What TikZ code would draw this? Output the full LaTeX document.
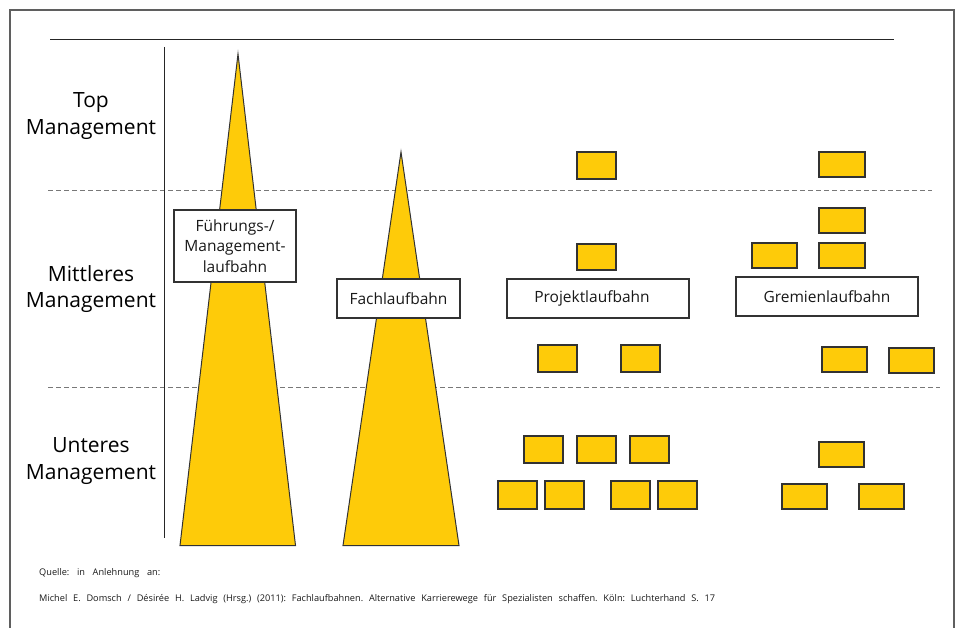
\documentclass[tikz,border=0pt]{standalone}
\usepackage{fontspec}
\setmainfont{Open Sans}
\frenchspacing
\definecolor{ygold}{RGB}{254,203,9}
\definecolor{bord}{RGB}{50,50,50}
\definecolor{framec}{RGB}{95,95,95}
\definecolor{dashc}{RGB}{120,120,120}
\begin{document}
\begin{tikzpicture}[x=1pt,y=-1pt,
  ybox/.style={draw=bord,fill=ygold,line width=1.1pt,inner sep=0pt,outer sep=0pt,rectangle},
  lbox/.style={draw=bord,fill=white,line width=1.1pt,inner sep=0pt,outer sep=0pt,rectangle,align=center,
     font=\fontsize{15.5}{20.5}\selectfont,text=black!90},
  level/.style={align=center,font=\fontsize{21}{26.5}\selectfont,text=black,inner sep=0pt},
  tri/.style={fill=ygold,draw=bord,line width=1pt,line join=miter},
  dline/.style={draw=dashc,line width=0.8pt,dash pattern=on 5pt off 3pt},
  foot/.style={font=\fontsize{9.2}{11}\selectfont\frenchspacing,text=black!90,inner sep=0pt,anchor=base west}]
\useasboundingbox (0,0) rectangle (962,628);
% frame
\coordinate (fbl) at (10,628);
\coordinate (ftl) at (10,10);
\coordinate (ftr) at (954,10);
\coordinate (fbr) at (954,628);
\draw[framec,line width=1.6pt] (fbl) -- (ftl) -- (ftr) -- (fbr);
% top line
\coordinate (tl1) at (50,40);
\coordinate (tl2) at (894,40);
\draw[black!85,line width=1pt] (tl1) -- (tl2);
% dashed lines
\coordinate (d1a) at (48,190);
\coordinate (d1b) at (932,190);
\coordinate (d2a) at (48,387);
\coordinate (d2b) at (940,387);
\draw[dline] (d1a) -- (d1b);
\draw[dline] (d2a) -- (d2b);
% vertical line
\coordinate (v1) at (164,47);
\coordinate (v2) at (164,538);
\draw[black!85,line width=1pt] (v1) -- (v2);
% level labels
\node[level] (top) at (91,116) {Top\\Management};
\node[level] (mid) at (91,289) {Mittleres\\Management};
\node[level] (low) at (91,461) {Unteres\\Management};
% triangles
\filldraw[tri] (238,54) -- (295.5,545.5) -- (180,545.5) -- cycle;
\filldraw[tri] (401,152) -- (459,545.5) -- (343,545.5) -- cycle;
% label boxes
\node[lbox,minimum width=122pt,minimum height=72pt] (fm) at (235,246) {Führungs-/\\Management-\\laufbahn};
\node[lbox,minimum width=123pt,minimum height=39pt] (fl) at (398.5,298.5) {Fachlaufbahn};
\node[lbox,minimum width=182pt,minimum height=39pt] (pl) at (598,298.5) {Projektlaufbahn\hspace*{12pt}};
\node[lbox,minimum width=182pt,minimum height=39pt] (gl) at (827,296.5) {Gremienlaufbahn};
% Projekt boxes
\node[ybox,minimum width=39pt,minimum height=27pt] (p1) at (596.5,165.5) {};
\node[ybox,minimum width=39pt,minimum height=26pt] (p2) at (596.5,257) {};
\node[ybox,minimum width=39pt,minimum height=27pt] (p3) at (557.5,358.5) {};
\node[ybox,minimum width=39pt,minimum height=27pt] (p4) at (640.5,358.5) {};
\node[ybox,minimum width=39pt,minimum height=27pt] (p5) at (543.5,449.5) {};
\node[ybox,minimum width=39pt,minimum height=27pt] (p6) at (596.5,449.5) {};
\node[ybox,minimum width=39pt,minimum height=27pt] (p7) at (649.5,449.5) {};
\node[ybox,minimum width=39pt,minimum height=28pt] (p8) at (517.5,495) {};
\node[ybox,minimum width=39pt,minimum height=28pt] (p9) at (564.5,495) {};
\node[ybox,minimum width=39pt,minimum height=28pt] (p10) at (630.5,495) {};
\node[ybox,minimum width=39pt,minimum height=28pt] (p11) at (677.5,495) {};
% Gremien boxes
\node[ybox,minimum width=46pt,minimum height=25pt] (g1) at (842,164.5) {};
\node[ybox,minimum width=46pt,minimum height=25pt] (g2) at (842,220.5) {};
\node[ybox,minimum width=45pt,minimum height=25pt] (g3) at (774.5,255.5) {};
\node[ybox,minimum width=46pt,minimum height=25pt] (g4) at (842,255.5) {};
\node[ybox,minimum width=45pt,minimum height=25pt] (g5) at (844.5,359.5) {};
\node[ybox,minimum width=45pt,minimum height=25pt] (g6) at (911.5,360.5) {};
\node[ybox,minimum width=45pt,minimum height=25pt] (g7) at (841.5,454.5) {};
\node[ybox,minimum width=45pt,minimum height=25pt] (g8) at (804.5,496.5) {};
\node[ybox,minimum width=45pt,minimum height=25pt] (g9) at (881.5,496.5) {};
% footnotes
\node[foot] (q1) at (39,575.5) {\makebox[121pt][s]{Quelle: in Anlehnung an:}};
\node[foot] (q2) at (39,601.5) {\makebox[676pt][s]{Michel E. Domsch / Désirée H. Ladvig (Hrsg.) (2011): Fachlaufbahnen. Alternative Karrierewege für Spezialisten schaffen. Köln: Luchterhand S. 17}};
\end{tikzpicture}
\end{document}
